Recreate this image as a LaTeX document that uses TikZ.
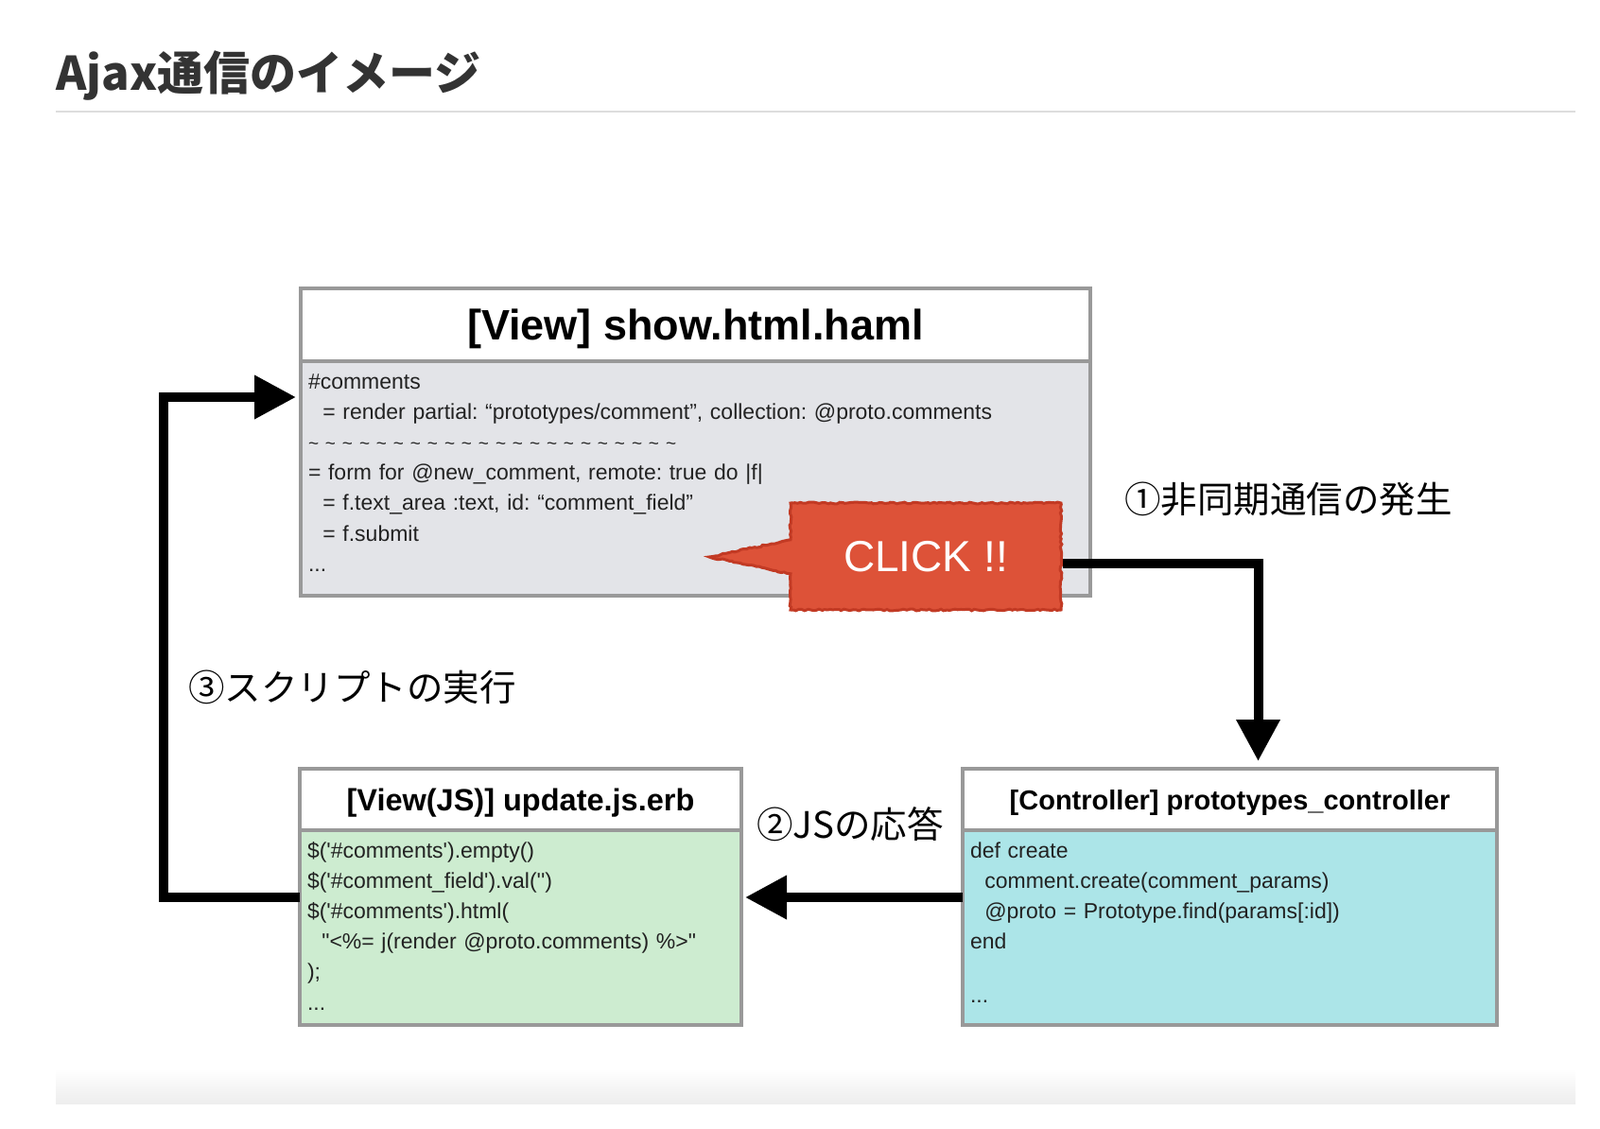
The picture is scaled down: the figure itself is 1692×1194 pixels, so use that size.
\documentclass[tikz,border=0pt]{standalone}
\usepackage{fontspec}
\setmainfont{Liberation Sans}
\newfontfamily\jpfont{Noto Sans CJK JP}
\newfontfamily\codefont{Liberation Sans}[Ligatures=TeXOff]
\usepackage{tikz}
\usetikzlibrary{positioning, arrows.meta, shapes.callouts, decorations.pathmorphing}
\definecolor{framegray}{HTML}{999999}
\definecolor{viewgray}{HTML}{E3E4E8}
\definecolor{jsgreen}{HTML}{CDECD0}
\definecolor{ctrlcyan}{HTML}{ACE5E8}
\definecolor{clickred}{HTML}{DD5238}
\definecolor{clickedge}{HTML}{C23A24}
\definecolor{titlegray}{HTML}{333333}
\definecolor{rulegray}{HTML}{DDDDDD}
\definecolor{codegray}{HTML}{222222}
\newcommand{\wavyline}{\foreach \i in {1,...,22}{\makebox[18pt][l]{\fontsize{19}{19}\selectfont\textasciitilde}}}
\frenchspacing

\begin{document}
\begin{tikzpicture}[x=1pt, y=-1pt, >={Triangle[length=44pt,width=44pt]}]
			\tikzstyle{head}=[draw=framegray, line width=4pt, fill=white, outer sep=0pt, text depth=0pt]
			\tikzstyle{body}=[draw=framegray, line width=4pt, outer sep=0pt, inner ysep=0pt, inner xsep=8pt, align=left, text height=29pt, text=codegray, font=\codefont\fontsize{23}{32.2}\selectfont]
			\tikzstyle{flow}=[->, line width=10pt]
			\tikzstyle{tag}=[anchor=west, inner sep=0pt, font=\jpfont\fontsize{38.5}{44}\selectfont]
			\useasboundingbox (0,0) rectangle (1692,1194);
			\node[anchor=base west, inner sep=0pt, text=titlegray, font=\jpfont\bfseries\fontsize{49}{58}\selectfont] (title) at (59,95) {Ajax通信のイメージ};
			\draw[rulegray, line width=2pt] (59,118) -- (1666,118);
			% show.html.haml
			\node[head, minimum width=835pt, minimum height=77pt, font=\bfseries\fontsize{45}{54}\selectfont] (view) at (735.5,343.5) {[View] show.html.haml};
			\node[body, fill=viewgray, minimum width=835pt, minimum height=248pt, text width=819pt, text depth=219pt, below=0pt of view] (viewbody) {\#comments\\
				\ \ = render partial: “prototypes/comment”, collection: @proto.comments\\
				\wavyline\\
				= form for @new\_comment, remote: true do |f|\\
				\ \ = f.text\_area :text, id: “comment\_field”\\
				\ \ = f.submit\\
				...};
			\node[rectangle callout, callout absolute pointer={(750,589)}, callout pointer width=36pt, fill=clickred, draw=clickedge, line width=3pt, decorate, decoration={random steps, segment length=3pt, amplitude=0.9pt}, minimum width=286pt, minimum height=113pt, text=white, font=\fontsize{46}{55}\selectfont] (click) at (979,588.5) {CLICK !!};
			% update.js.erb
			\node[head, minimum width=467pt, minimum height=65pt, font=\bfseries\fontsize{32.5}{39}\selectfont] (viewjs) at (550.5,845.5) {[View(JS)] update.js.erb};
			\node[body, fill=jsgreen, minimum width=467pt, minimum height=206pt, text width=451pt, text depth=177pt, below=0pt of viewjs] (jsbody) {\$('\#comments').empty()\\
				\$('\#comment\_field').val('')\\
				\$('\#comments').html(\\
				\ \ "<\%= j(render @proto.comments) \%>"\\
				);\\
				...};
			% prototypes_controller
			\node[head, minimum width=565pt, minimum height=65pt, font=\bfseries\fontsize{29}{35}\selectfont] (ctrl) at (1300.5,845.5) {[Controller] prototypes\_controller};
			\node[body, fill=ctrlcyan, minimum width=565pt, minimum height=206pt, text width=549pt, text depth=177pt, below=0pt of ctrl] (ctrlbody) {def create\\
				\ \ comment.create(comment\_params)\\
				\ \ @proto = Prototype.find(params[:id])\\
				end\\[25pt]
				...};
			\node[tag] (async) at (1189,528) {①非同期通信の発生};
			\node[tag] (reply) at (800,872) {②JSの応答};
			\node[tag] (run) at (199,727) {③スクリプトの実行};
			\draw[flow] ([yshift=-7pt]click.east) -| ([xshift=30pt,yshift=8pt]ctrl.north);
			\draw[flow] ([yshift=32pt]ctrlbody.west) -- ([xshift=4pt,yshift=32pt]jsbody.east);
			\draw[flow] ([yshift=32pt]jsbody.west) -- ++(-144,0) |- ([xshift=-5pt,yshift=86pt]viewbody.west);
			\shade[top color=white, bottom color=black!7] (59,1130) rectangle (1666,1167);
		\end{tikzpicture}
\end{document}
